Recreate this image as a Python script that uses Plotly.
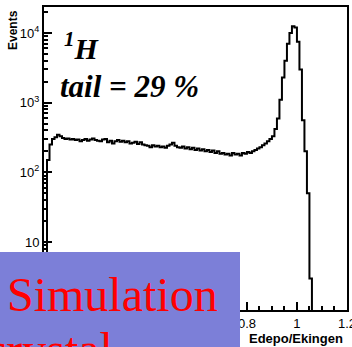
import numpy as np
import plotly.graph_objects as go

# ---- data ----
bin_width = 0.01
counts = [
    150, 250, 300, 320, 345, 330, 310, 300, 305, 295,
    300, 290, 295, 280, 290, 300, 285, 295, 305, 290,
    285, 280, 295, 300, 270, 285, 260, 280, 290, 275,
    285, 270, 280, 260, 265, 275, 255, 270, 250, 245,
    240, 230, 245, 235, 240, 230, 235, 225, 240, 250,
    265, 240, 230, 225, 235, 220, 230, 215, 225, 210,
    220, 205, 215, 200, 210, 195, 205, 190, 200, 185,
    190, 180, 185, 175, 190, 180, 185, 175, 190, 185,
    195, 190, 200, 210, 220, 230, 245, 260, 280, 300,
    330, 420, 590, 1100, 2300, 4000, 7000, 10000, 12500, 12000,
    7500, 3000, 560, 200, 50, 3,
]
y_tickvals = [10, 100, 1000, 10000]
y_ticktext = ["10", "10<sup>2</sup>", "10<sup>3</sup>", "10<sup>4</sup>"]
x_tickvals = [0.8, 1.0, 1.2]
x_ticktext = ["0.8", "1", "1.2"]
x_title = "Edepo/Ekingen"
y_title = "Events"
label_nucleus = "<b><i><sup>1</sup>H</i></b>"
label_tail = "<b><i>tail = 29 %</i></b>"
banner_line1 = "Simulation"
banner_line2 = "crystal"

# ---- build step outline ----
edges = np.arange(len(counts) + 1) * bin_width
floor = 0.3  # below the axis bottom so the outline drops out of view
xs = [edges[0]] + list(edges[:-1]) + [edges[-1], edges[-1]]
ys = [floor] + list(counts) + [counts[-1], floor]

W, H = 352, 347
L, R, T, B = 44, 5, 7, 37
PW, PH = W - L - R, H - T - B


def px(x):
    return (x - L) / PW


def py(y):
    return (H - B - y) / PH


fig = go.Figure()
fig.add_trace(go.Scatter(x=xs, y=ys, mode="lines", line=dict(color="black", width=2, shape="hv"),
                         hoverinfo="skip", showlegend=False))

fig.update_layout(
    width=W, height=H, margin=dict(l=L, r=R, t=T, b=B, autoexpand=False),
    paper_bgcolor="white", plot_bgcolor="white", showlegend=False,
    font=dict(family="Liberation Sans", color="black"),
)
fig.update_xaxes(range=[-0.012, 1.2003], showgrid=False, zeroline=False, automargin=False,
                 showline=True, linecolor="black", linewidth=2, mirror=True,
                 ticks="inside", ticklen=8, tickwidth=1.5, tickcolor="black",
                 tickvals=x_tickvals, ticktext=x_ticktext, ticklabeloverflow="allow",
                 tickfont=dict(size=13, family="Liberation Sans", color="black"),
                 minor=dict(ticks="inside", ticklen=4, tickwidth=1.5, tickcolor="black", dtick=0.05, tick0=0))
fig.update_yaxes(type="log", range=[0.024, 4.373], showgrid=False, zeroline=False, automargin=False,
                 showline=True, linecolor="black", linewidth=2, mirror=True,
                 ticks="inside", ticklen=8, tickwidth=1.5, tickcolor="black",
                 tickvals=y_tickvals, ticktext=y_ticktext,
                 tickfont=dict(size=13, family="Liberation Sans", color="black"),
                 minor=dict(ticks="inside", ticklen=4, tickwidth=1.5, tickcolor="black", dtick="D1"))

# blue banner overlay
fig.add_shape(type="rect", xref="paper", yref="paper",
              x0=px(0), x1=px(240), y0=py(252), y1=py(H + 2),
              fillcolor="#7c7fd8", line=dict(width=0), layer="above")

annos = [
    dict(text=label_nucleus, x=px(62), y=py(46), xanchor="left", yanchor="middle",
         font=dict(family="Liberation Serif", size=30, color="black")),
    dict(text=label_tail, x=px(58), y=py(87), xanchor="left", yanchor="middle",
         font=dict(family="Liberation Serif", size=31, color="black")),
    dict(text="<b>" + y_title + "</b>", x=px(13), y=py(30), xanchor="center", yanchor="middle",
         textangle=-90, font=dict(family="Liberation Sans", size=12, color="black")),
    dict(text="<b>" + x_title + "</b>", x=px(345), y=py(338), xanchor="right", yanchor="middle",
         font=dict(family="Liberation Sans", size=13, color="black")),
    dict(text=banner_line1, x=px(5), y=py(294), xanchor="left", yanchor="middle",
         font=dict(family="Liberation Serif", size=48, color="#ff0000")),
    dict(text=banner_line2, x=px(-17), y=py(349), xanchor="left", yanchor="middle",
         font=dict(family="Liberation Serif", size=48, color="#ff0000")),
]
for a in annos:
    fig.add_annotation(xref="paper", yref="paper", showarrow=False, **a)

fig.write_html("out.html")
